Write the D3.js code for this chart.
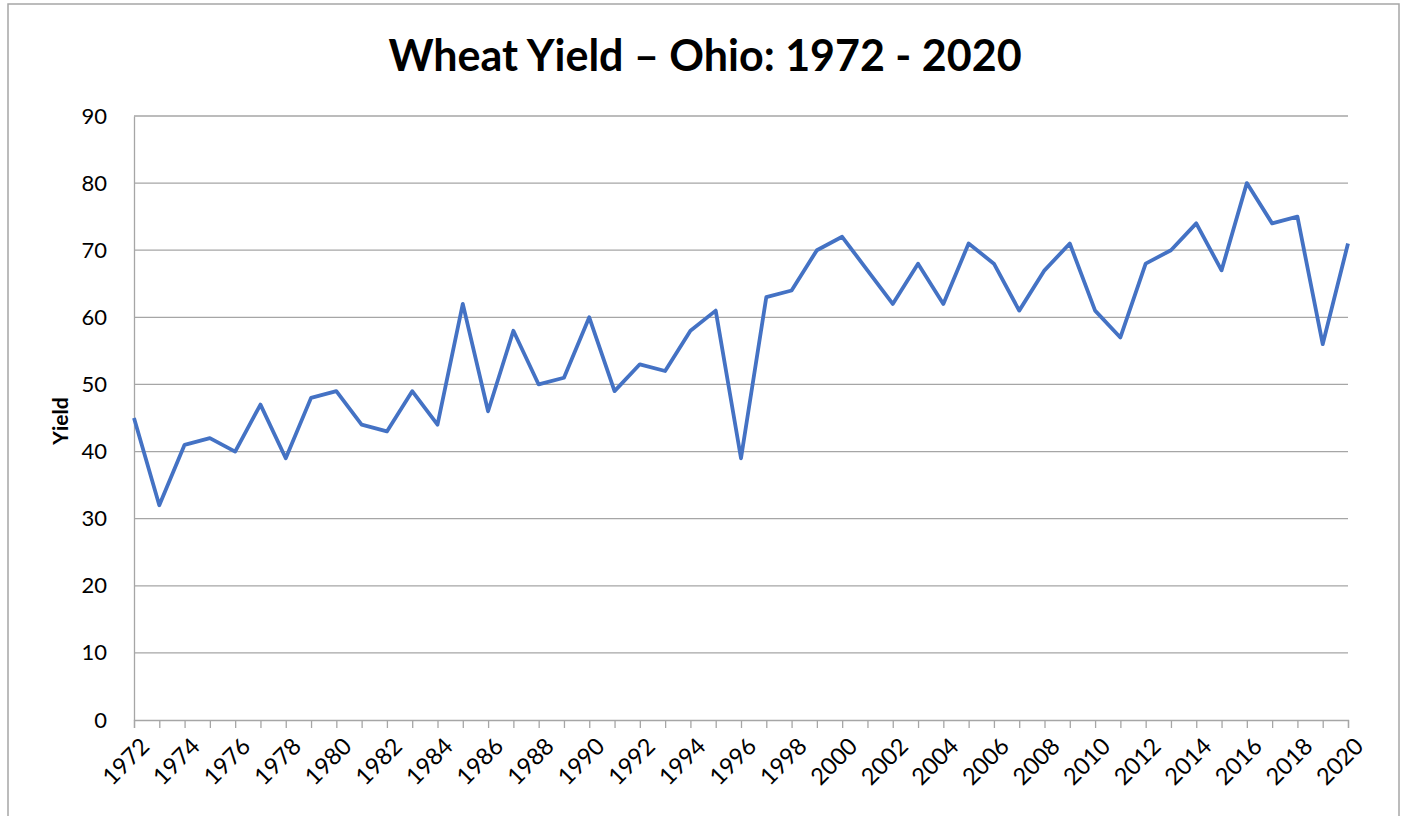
<!DOCTYPE html>
<html>
<head>
<meta charset="utf-8">
<script src="https://cdn.jsdelivr.net/npm/d3@7"></script>
<style>
  body { margin: 0; background: #fff; }
  svg { display: block; font-family: Lato, "Open Sans", sans-serif; }
</style>
</head>
<body>
<svg id="chart" width="1406" height="816"></svg>
<script>
// data
const years = [1972, 1973, 1974, 1975, 1976, 1977, 1978, 1979, 1980, 1981,
  1982, 1983, 1984, 1985, 1986, 1987, 1988, 1989, 1990, 1991,
  1992, 1993, 1994, 1995, 1996, 1997, 1998, 1999, 2000, 2001,
  2002, 2003, 2004, 2005, 2006, 2007, 2008, 2009, 2010, 2011,
  2012, 2013, 2014, 2015, 2016, 2017, 2018, 2019, 2020];
const yields = [45, 32, 41, 42, 40, 47, 39, 48, 49, 44,
  43, 49, 44, 62, 46, 58, 50, 51, 60, 49,
  53, 52, 58, 61, 39, 63, 64, 70, 72, 67,
  62, 68, 62, 71, 68, 61, 67, 71, 61, 57,
  68, 70, 74, 67, 80, 74, 75, 56, 71];
const yTicks = [0, 10, 20, 30, 40, 50, 60, 70, 80, 90];
const xLabelYears = years.filter(y => y % 2 === 0);

const svg = d3.select('#chart');
const margin = { left: 134, right: 1348, top: 116, bottom: 720 };
const font = 'Lato, "Open Sans", sans-serif';

// outer chart border
svg.append('rect')
  .attr('x', 8).attr('y', 4)
  .attr('width', 1391).attr('height', 830)
  .attr('fill', 'none')
  .attr('stroke', '#a6a6a6')
  .attr('stroke-width', 1.5);

const x = d3.scaleLinear()
  .domain([years[0], years[years.length - 1]])
  .range([margin.left, margin.right]);

const y = d3.scaleLinear()
  .domain([0, 90])
  .range([margin.bottom, margin.top]);

// gridlines
svg.append('g')
  .selectAll('line')
  .data(yTicks.filter(d => d > 0))
  .enter()
  .append('line')
  .attr('x1', margin.left).attr('x2', margin.right)
  .attr('y1', d => y(d)).attr('y2', d => y(d))
  .attr('stroke', '#a6a6a6')
  .attr('stroke-width', 1.3);

// y axis
const yAxis = svg.append('g')
  .attr('transform', `translate(${margin.left},0)`)
  .call(d3.axisLeft(y).tickValues(yTicks).tickSize(0).tickPadding(27));
yAxis.attr('font-family', font);
yAxis.select('.domain').attr('stroke', '#a6a6a6').attr('stroke-width', 1.3);
yAxis.selectAll('text')
  .style('font-size', '22px')
  .attr('fill', '#000');

// x axis
const xAxis = svg.append('g')
  .attr('transform', `translate(0,${margin.bottom})`)
  .call(d3.axisBottom(x).tickValues(years).tickSize(8).tickFormat(''));
xAxis.select('.domain').attr('stroke', '#a6a6a6').attr('stroke-width', 1.3);
xAxis.selectAll('.tick line').attr('stroke', '#a6a6a6').attr('stroke-width', 1.3);

svg.append('g')
  .selectAll('text')
  .data(xLabelYears)
  .enter()
  .append('text')
  .attr('transform', d => `translate(${x(d) + 11},${margin.bottom + 22}) rotate(-45)`)
  .attr('text-anchor', 'end')
  .attr('dy', '0.35em')
  .style('font-size', '23.5px')
  .attr('fill', '#000')
  .text(d => d);

// line
const line = d3.line()
  .x((d, i) => x(years[i]))
  .y(d => y(d));

svg.append('path')
  .datum(yields)
  .attr('d', line)
  .attr('fill', 'none')
  .attr('stroke', '#4472c4')
  .attr('stroke-width', 3.8)
  .attr('stroke-linejoin', 'round');

// title
svg.append('text')
  .attr('x', 705).attr('y', 71)
  .attr('text-anchor', 'middle')
  .style('font-size', '43px')
  .style('font-weight', 'bold')
  .text('Wheat Yield – Ohio: 1972 - 2020');

// y axis title
svg.append('text')
  .attr('transform', 'translate(68,421) rotate(-90)')
  .attr('text-anchor', 'middle')
  .style('font-size', '21px')
  .style('font-weight', 'bold')
  .text('Yield');
</script>
</body>
</html>
